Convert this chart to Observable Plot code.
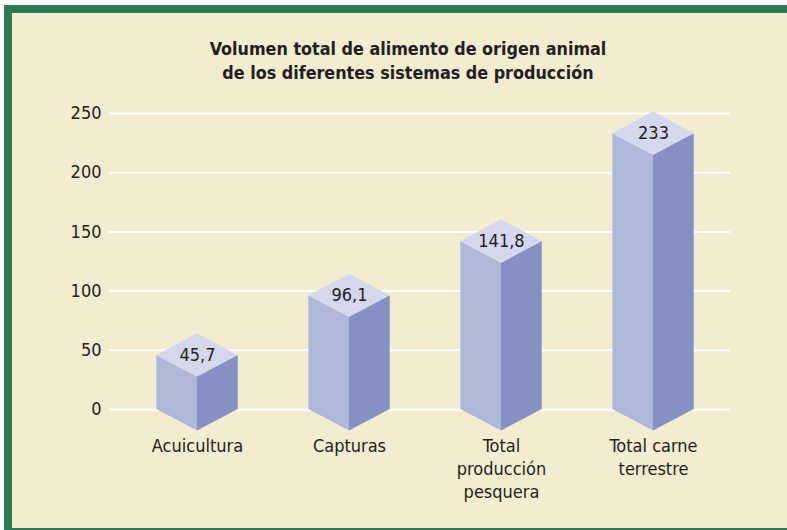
<!DOCTYPE html>
<html>
<head>
<meta charset="utf-8">
<script src="https://cdn.jsdelivr.net/npm/d3@7"></script>
<script src="https://cdn.jsdelivr.net/npm/@observablehq/plot@0.6"></script>
<style>
  html, body { margin: 0; padding: 0; background: #ffffff; }
  #page { position: relative; width: 787px; height: 530px; overflow: hidden; }
  #frame {
    position: absolute; left: 4px; top: 5px; width: 783px; height: 525px;
    box-sizing: border-box; background: #f2ecd0;
    border-top: 8px solid #2a7d52; border-left: 8px solid #2a7d52; border-bottom: 2px solid #2a7d52;
  }
  #title {
    position: absolute; left: 0; top: 37px; width: 816px; text-align: center;
    font-family: "DejaVu Sans Condensed", "DejaVu Sans", sans-serif;
    font-weight: bold; font-size: 17.8px; line-height: 23.5px; color: #231f20;
  }
  #chart { position: absolute; left: 0; top: 96px; }
</style>
</head>
<body>
<div id="page">
  <div id="frame"></div>
  <div id="title">Volumen total de alimento de origen animal<br>de los diferentes sistemas de producción</div>
  <div id="chart"></div>
</div>
<script>
const categories = ["Acuicultura", "Capturas", "Total producción pesquera", "Total carne terrestre"];
const categoryLabels = ["Acuicultura", "Capturas", "Total\nproducción\npesquera", "Total carne\nterrestre"];
const values = [45.7, 96.1, 141.8, 233];
const valueLabels = ["45,7", "96,1", "141,8", "233"];
const yTicks = [0, 50, 100, 150, 200, 250];

const FONT = '"DejaVu Sans Condensed", "DejaVu Sans", sans-serif';
const HW = 0.268;   // half width of prism, in x units
const HD = 18.2;    // half depth of prism top, in y units

const idx = categories.map((c, i) => i);
const leftFaces = values.flatMap((v, i) => [
  {i, x: i - HW, y1: 0, y2: v},
  {i, x: i, y1: -HD, y2: v - HD}
]);
const rightFaces = values.flatMap((v, i) => [
  {i, x: i, y1: -HD, y2: v - HD},
  {i, x: i + HW, y1: 0, y2: v}
]);
const topFaces = values.flatMap((v, i) => [
  {i, x: i - HW, y1: v, y2: v},
  {i, x: i, y1: v - HD, y2: v + HD},
  {i, x: i + HW, y1: v, y2: v}
]);

const chart = Plot.plot({
  width: 787,
  height: 434,
  marginTop: 17,
  marginBottom: 121,
  marginLeft: 109,
  marginRight: 57,
  style: {background: "transparent", fontFamily: FONT, fontSize: "18px", color: "#231f20"},
  x: {type: "linear", domain: [-0.5789, 3.5066], axis: null},
  y: {domain: [0, 250]},
  marks: [
    Plot.gridY(yTicks, {stroke: "#ffffff", strokeOpacity: 1, strokeWidth: 2}),
    Plot.axisY(yTicks, {tickSize: 0, tickPadding: 8, fontSize: 18, tickFormat: d => String(d), fill: "#231f20"}),
    Plot.areaY(leftFaces, {x: "x", y1: "y1", y2: "y2", z: "i", fill: "#b0b8da", curve: "linear"}),
    Plot.areaY(rightFaces, {x: "x", y1: "y1", y2: "y2", z: "i", fill: "#8590c3", curve: "linear"}),
    Plot.areaY(topFaces, {x: "x", y1: "y1", y2: "y2", z: "i", fill: "#d5d8ed", curve: "linear"}),
    Plot.text(idx, {x: i => i, y: i => values[i], text: i => valueLabels[i], fontSize: 18, fill: "#231f20"}),
    Plot.text(idx, {x: i => i, y: 0, text: i => categoryLabels[i], lineAnchor: "top", dy: 26, lineHeight: 1.28, fontSize: 18, fill: "#231f20"})
  ]
});
document.getElementById("chart").appendChild(chart);
</script>
</body>
</html>
